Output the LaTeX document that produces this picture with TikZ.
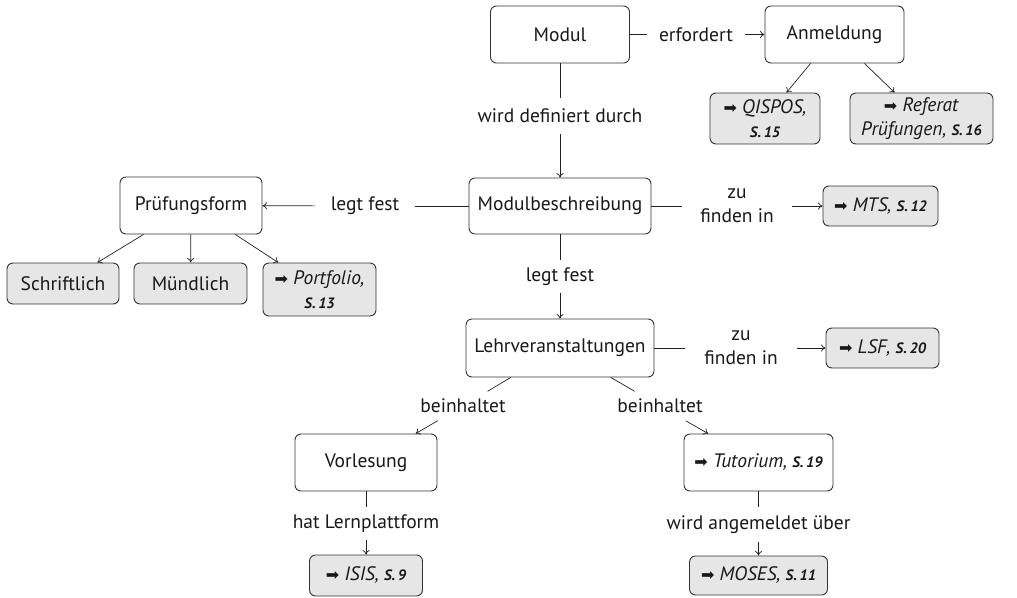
\documentclass[tikz,border=0pt]{standalone}
\usepackage{fontspec}
\setmainfont{PT Sans}
\newfontfamily\symfont{DejaVu Sans}
\usetikzlibrary{arrows.meta}
\newcommand\refarr{{\symfont\fontsize{16}{20}\selectfont\char"27A1}}
\newcommand\pg[1]{{\fontsize{15}{18}\selectfont\bfseries\itshape S.\,#1}}
\definecolor{edgecol}{HTML}{222222}
\definecolor{boxcol}{HTML}{333333}
\definecolor{reffill}{HTML}{E6E6E6}
\tikzset{
  every node/.style={font=\fontsize{19.5}{24}\selectfont, text=black!90},
  nbox/.style={draw=boxcol, line width=0.9pt, rounded corners=6pt, fill=white, align=center, inner sep=2pt},
  refbox/.style={nbox, fill=reffill},
  lab/.style={inner sep=0pt, align=center},
  conn/.style={draw=edgecol, line width=0.7pt},
  arr/.style={conn, -{To[length=4.5pt,width=7pt]}}
}
\begin{document}
\begin{tikzpicture}[x=1pt,y=-1pt]
\useasboundingbox (0,0) rectangle (1017,597);
% boxes
\node[nbox, minimum width=139pt, minimum height=57pt] (modul) at (560,34.5) {Modul};
\node[nbox, minimum width=139pt, minimum height=57pt] (anm) at (834.5,34.5) {Anmeldung};
\node[refbox, minimum width=110pt, minimum height=51pt] (qis) at (765,118.5) {\refarr\ \textit{QISPOS,}\\\pg{15}};
\node[refbox, minimum width=143pt, minimum height=51pt] (refp) at (921.5,118.5) {\refarr\ \textit{Referat}\\\textit{Prüfungen,} \pg{16}};
\node[nbox, minimum width=182pt, minimum height=56pt] (mb) at (560,206) {Modulbeschreibung};
\node[nbox, minimum width=142pt, minimum height=57pt] (pf) at (191,205.5) {Prüfungsform};
\node[refbox, minimum width=112pt, minimum height=41pt] (schr) at (63,283.5) {Schriftlich};
\node[refbox, minimum width=113pt, minimum height=41pt] (mue) at (190.5,283.5) {Mündlich};
\node[refbox, minimum width=113pt, minimum height=53pt] (port) at (319.5,289.5) {\refarr\ \textit{Portfolio,}\\\pg{13}};
\node[refbox, minimum width=115pt, minimum height=40pt] (mts) at (880.5,206) {\refarr\ \textit{MTS,} \pg{12}};
\node[nbox, minimum width=188pt, minimum height=58pt] (lv) at (560,348) {Lehrveranstaltungen};
\node[refbox, minimum width=113pt, minimum height=40pt] (lsf) at (882.5,348) {\refarr\ \textit{LSF,} \pg{20}};
\node[nbox, minimum width=142pt, minimum height=57pt] (vl) at (366,462.5) {Vorlesung};
\node[nbox, minimum width=149pt, minimum height=57pt] (tut) at (758.5,462.5) {\refarr\ \textit{Tutorium,} \pg{19}};
\node[refbox, minimum width=113pt, minimum height=41pt] (isis) at (366,575.5) {\refarr\ \textit{ISIS,} \pg{9}};
\node[refbox, minimum width=138pt, minimum height=39pt] (moses) at (758.5,575.5) {\refarr\ \textit{MOSES,} \pg{11}};
% labels
\node[lab, minimum width=98pt, minimum height=20pt] (l1) at (696,34.5) {erfordert};
\node[lab, minimum width=200pt, minimum height=36pt] (l2) at (560,116) {wird definiert durch};
\node[lab, minimum width=100pt, minimum height=20pt] (l3) at (365,206) {legt fest};
\node[lab, minimum width=110pt, minimum height=50pt] (l4) at (737,206) {zu\\finden in};
\node[lab, minimum width=100pt, minimum height=33pt] (l5) at (560,276.5) {legt fest};
\node[lab, minimum width=112pt, minimum height=50pt] (l6) at (741,348) {zu\\finden in};
\node[lab, minimum width=90pt, minimum height=29pt] (l7) at (463,406) {beinhaltet};
\node[lab, minimum width=90pt, minimum height=29pt] (l8) at (660,406) {beinhaltet};
\node[lab, minimum width=170pt, minimum height=33pt] (l9) at (366,523.5) {hat Lernplattform};
\node[lab, minimum width=200pt, minimum height=35pt] (l10) at (758.5,524.5) {wird angemeldet über};
% connectors
\draw[conn] (modul) -- (l1); \draw[arr] (l1) -- (anm);
\draw[arr] (anm) -- (qis);
\draw[arr] (anm) -- (refp);
\draw[conn] (modul) -- (l2); \draw[arr] (l2) -- (mb);
\draw[conn] (mb) -- (l3); \draw[arr] (l3) -- (pf);
\draw[arr] (pf) -- (schr);
\draw[arr] (pf) -- (mue);
\draw[arr] (pf) -- (port);
\draw[conn] (mb) -- (l4); \draw[arr] (l4) -- (mts);
\draw[conn] (mb) -- (l5); \draw[arr] (l5) -- (lv);
\draw[conn] (lv) -- (l6); \draw[arr] (l6) -- (lsf);
\draw[conn] (lv) -- (l7); \draw[arr] (l7) -- (vl);
\draw[conn] (lv) -- (l8); \draw[arr] (l8) -- (tut);
\draw[conn] (vl) -- (l9); \draw[arr] (l9) -- (isis);
\draw[conn] (tut) -- (l10); \draw[arr] (l10) -- (moses);
\end{tikzpicture}
\end{document}
